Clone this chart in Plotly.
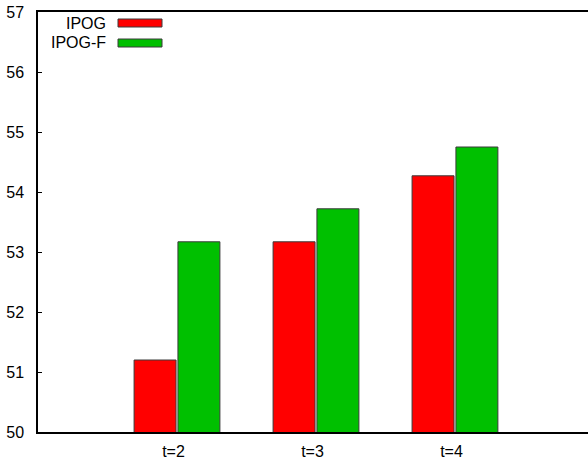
import plotly.graph_objects as go

# Data
categories = ["t=2", "t=3", "t=4"]
ipog = [51.20, 53.17, 54.27]
ipog_f = [53.17, 53.72, 54.75]
series_names = ["IPOG", "IPOG-F"]
series_colors = ["#ff0000", "#00c000"]

W, H = 588, 459
ML, MT, MB, MR = 38, 12, 27, 0
plot_w = W - ML - MR
plot_h = H - MT - MB

positions = list(range(len(categories)))

fig = go.Figure()
for name, vals, col in zip(series_names, [ipog, ipog_f], series_colors):
    fig.add_trace(go.Bar(
        x=positions, y=vals, name=name,
        marker=dict(color=col, line=dict(color="#3a3a3a", width=1)),
        showlegend=False,
    ))

# Legend drawn gnuplot-style: label on the left, colour key on the right
def px_x(px):
    return (px - ML) / plot_w

def px_y(py):
    return (H - MB - py) / plot_h

annotations = []
shapes = []
for i, (name, col) in enumerate(zip(series_names, series_colors)):
    cy = 23 + i * 20
    annotations.append(dict(
        x=px_x(108), y=px_y(cy), xref="paper", yref="paper",
        text=name, showarrow=False, xanchor="right", yanchor="middle",
        font=dict(size=16, color="#000000"),
    ))
    shapes.append(dict(
        type="rect", xref="paper", yref="paper",
        x0=px_x(118), x1=px_x(162), y0=px_y(cy + 4), y1=px_y(cy - 4),
        fillcolor=col, line=dict(color="#3a3a3a", width=1),
    ))

fig.update_layout(
    width=W, height=H,
    margin=dict(l=ML, r=MR, t=MT, b=MB, pad=0),
    paper_bgcolor="white", plot_bgcolor="white",
    font=dict(family="Liberation Sans, Arial, sans-serif", size=16, color="#000000"),
    barmode="group", bargap=0.369, bargroupgap=0.043,
    annotations=annotations, shapes=shapes,
    xaxis=dict(
        tickmode="array", tickvals=[p - 0.025 for p in positions], ticktext=categories,
        range=[-1, 2.957], showgrid=False, zeroline=False,
        showline=True, linecolor="#000000", linewidth=1.5, mirror=True,
        ticks="", ticklabelstandoff=4,
    ),
    yaxis=dict(
        range=[50, 57], dtick=1, showgrid=False, zeroline=False,
        showline=True, linecolor="#000000", linewidth=1.5,
        ticks="inside", ticklen=4, tickcolor="#000000",
        ticklabelstandoff=9,
    ),
)

fig.write_html("out.html")
